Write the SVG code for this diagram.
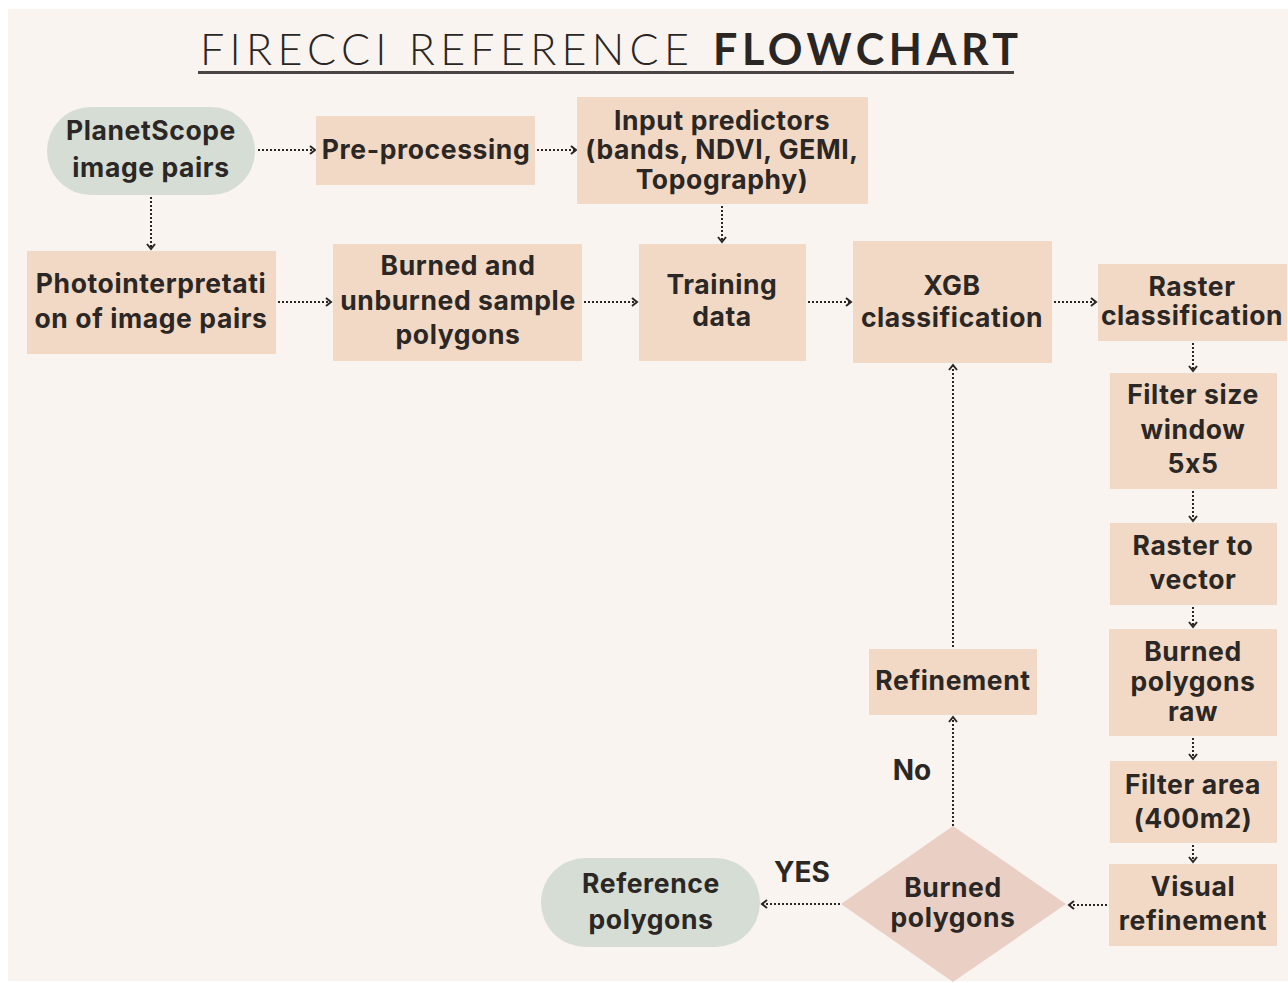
<svg xmlns="http://www.w3.org/2000/svg" width="1288" height="983" viewBox="0 0 1288 983">
<defs>
<style>
.bg{fill:#f9f4f0}
.box{fill:#f2d9c6}
.pill{fill:#d6ddd5}
.dia{fill:#ead0c4}
.t{font-family:Inter,"Noto Sans","Liberation Sans",sans-serif;font-weight:700;font-size:26.5px;letter-spacing:0.6px;fill:#2b2725;text-anchor:middle;font-feature-settings:"calt" 0}
.lbl{font-family:Inter,"Noto Sans","Liberation Sans",sans-serif;font-weight:700;font-size:28px;fill:#2b2725;text-anchor:middle}
.c{fill:none;stroke:#2a2624;stroke-width:2;stroke-dasharray:2 2;marker-end:url(#ah)}
</style>
<marker id="ah" viewBox="0 0 8 10" refX="6" refY="5" markerWidth="8" markerHeight="10" markerUnits="userSpaceOnUse" orient="auto">
<path d="M1,1 L6,5 L1,9" fill="none" stroke="#2a2624" stroke-width="2"/>
</marker>
</defs>
<rect x="0" y="0" width="1288" height="983" fill="#ffffff"/>
<rect class="bg" x="8" y="9" width="1280" height="972"/>

<g id="title">
<text x="200" y="65" font-family="Lato,'Open Sans',sans-serif" font-weight="300" font-size="43" letter-spacing="5.3" fill="#2a2624">FIRECCI REFERENCE</text>
<text x="713" y="65" font-family="Lato,'Open Sans',sans-serif" font-weight="700" font-size="43" letter-spacing="4.6" fill="#2a2624">FLOWCHART</text>
<rect x="198" y="71" width="816" height="3" fill="#4a4544"/>
</g>

<g id="connectors">
<path class="c" d="M258,150 H315"/>
<path class="c" d="M537,150 H576"/>
<path class="c" d="M151,197 V249"/>
<path class="c" d="M722,206 V242"/>
<path class="c" d="M278,302 H331"/>
<path class="c" d="M584,302 H637"/>
<path class="c" d="M808,302 H851"/>
<path class="c" d="M1054,302 H1096"/>
<path class="c" d="M1193,343 V371"/>
<path class="c" d="M1193,491 V521"/>
<path class="c" d="M1193,607 V627"/>
<path class="c" d="M1193,738 V759"/>
<path class="c" d="M1193,845 V862"/>
<path class="c" d="M1107,905 H1069"/>
<path class="c" d="M840,904 H762"/>
<path class="c" d="M953,826 V717"/>
<path class="c" d="M953,647 V365"/>
</g>

<g id="planetscope">
<rect class="pill" x="47" y="107" width="208" height="88" rx="44"/>
<text class="t" x="151" y="140">PlanetScope</text>
<text class="t" x="151" y="177">image pairs</text>
</g>
<g id="preprocessing">
<rect class="box" x="316" y="116" width="219" height="69"/>
<text class="t" x="426" y="159">Pre-processing</text>
</g>
<g id="inputpredictors">
<rect class="box" x="577" y="97" width="291" height="107"/>
<text class="t" x="722" y="130">Input predictors</text>
<text class="t" x="722" y="159">(bands, NDVI, GEMI,</text>
<text class="t" x="722" y="189">Topography)</text>
</g>
<g id="photointerpretation">
<rect class="box" x="27" y="251" width="249" height="103"/>
<text class="t" x="151" y="293">Photointerpretati</text>
<text class="t" x="151" y="328">on of image pairs</text>
</g>
<g id="samplepolygons">
<rect class="box" x="333" y="244" width="249" height="117"/>
<text class="t" x="458" y="275">Burned and</text>
<text class="t" x="458" y="310">unburned sample</text>
<text class="t" x="458" y="344">polygons</text>
</g>
<g id="trainingdata">
<rect class="box" x="639" y="244" width="167" height="117"/>
<text class="t" x="722" y="294">Training</text>
<text class="t" x="722" y="326">data</text>
</g>
<g id="xgb">
<rect class="box" x="853" y="241" width="199" height="122"/>
<text class="t" x="952" y="295">XGB</text>
<text class="t" x="952" y="327">classification</text>
</g>
<g id="rasterclass">
<rect class="box" x="1098" y="264" width="189" height="77"/>
<text class="t" x="1192" y="296">Raster</text>
<text class="t" x="1192" y="325">classification</text>
</g>
<g id="filtersize">
<rect class="box" x="1110" y="373" width="167" height="116"/>
<text class="t" x="1193" y="404">Filter size</text>
<text class="t" x="1193" y="439">window</text>
<text class="t" x="1193" y="473">5x5</text>
</g>
<g id="rastertovector">
<rect class="box" x="1110" y="523" width="167" height="82"/>
<text class="t" x="1193" y="555">Raster to</text>
<text class="t" x="1193" y="589">vector</text>
</g>
<g id="burnedraw">
<rect class="box" x="1109" y="629" width="168" height="107"/>
<text class="t" x="1193" y="661">Burned</text>
<text class="t" x="1193" y="691">polygons</text>
<text class="t" x="1193" y="721">raw</text>
</g>
<g id="filterarea">
<rect class="box" x="1110" y="761" width="167" height="82"/>
<text class="t" x="1193" y="794">Filter area</text>
<text class="t" x="1193" y="828">(400m2)</text>
</g>
<g id="visualrefinement">
<rect class="box" x="1109" y="864" width="168" height="82"/>
<text class="t" x="1193" y="896">Visual</text>
<text class="t" x="1193" y="930">refinement</text>
</g>
<g id="refinement">
<rect class="box" x="869" y="649" width="168" height="66"/>
<text class="t" x="953" y="690">Refinement</text>
</g>
<g id="decision">
<polygon class="dia" points="953,826 1066,904 953,982 841,904"/>
<text class="t" x="953" y="897">Burned</text>
<text class="t" x="953" y="927">polygons</text>
</g>
<g id="referencepolygons">
<rect class="pill" x="541" y="858" width="219" height="89" rx="44.5"/>
<text class="t" x="651" y="893">Reference</text>
<text class="t" x="651" y="929">polygons</text>
</g>
<g id="labels">
<text class="lbl" x="912" y="780">No</text>
<text class="lbl" x="802" y="882">YES</text>
</g>
</svg>
